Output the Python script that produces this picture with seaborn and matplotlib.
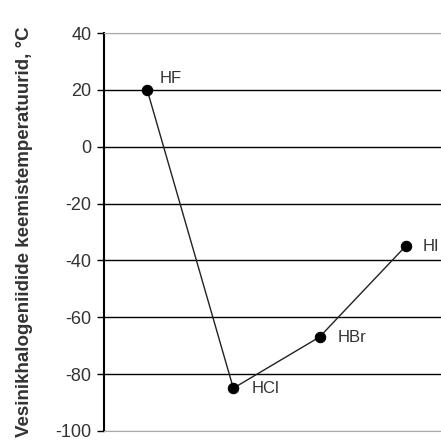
import matplotlib
matplotlib.use('Agg')
import matplotlib.pyplot as plt
import seaborn as sns
import pandas as pd

compounds = ['HF', 'HCl', 'HBr', 'HI']
boiling_points = [20, -85, -67, -35]
y_ticks = [40, 20, 0, -20, -40, -60, -80, -100]

sns.set_style('white')
plt.rcParams['font.family'] = ['Liberation Sans', 'DejaVu Sans']
plt.rcParams['axes.unicode_minus'] = False

df = pd.DataFrame({'x': range(len(compounds)), 'temp': boiling_points, 'name': compounds})

fig = plt.figure(figsize=(4.41, 4.46), dpi=100)
ax = fig.add_axes([0.236, 0.034, 0.764, 0.892])

sns.lineplot(data=df, x='x', y='temp', color='#222222', linewidth=1.0,
             marker='o', markersize=7.5, markerfacecolor='black', markeredgecolor='black', ax=ax)

# label offsets (points) next to each marker
offsets = {'HF': (9, 3), 'HCl': (13, 0), 'HBr': (13, 0), 'HI': (12, 0)}
for _, row in df.iterrows():
    ax.annotate(row['name'], (row['x'], row['temp']), xytext=offsets[row['name']],
                textcoords='offset points', fontsize=12, color='#333333',
                va='bottom' if row['name'] == 'HF' else 'center')

ax.set_xlim(-0.5, 3.41)
ax.set_ylim(-100, 40)
ax.set_yticks(y_ticks)
ax.set_xticks([])
ax.set_xlabel('')
ax.set_ylabel('Vesinikhalogeniidide keemistemperatuurid, °C', fontsize=13.5, fontweight='bold',
              color='#333333', labelpad=16)
ax.tick_params(axis='y', direction='out', length=5, width=1, color='black', labelsize=13,
               labelcolor='#333333', left=True, pad=4)

ax.grid(axis='y', color='black', linewidth=1)
for val, gl in zip(ax.get_yticks(), ax.get_ygridlines()):
    if val in (40, -100):
        gl.set_color('#aaaaaa')
ax.set_axisbelow(True)

ax.spines['right'].set_visible(False)
ax.spines['top'].set_color('#aaaaaa')
ax.spines['bottom'].set_color('#aaaaaa')
ax.spines['left'].set_color('black')
ax.spines['left'].set_linewidth(1.5)

fig.savefig('out.png', dpi=100)
